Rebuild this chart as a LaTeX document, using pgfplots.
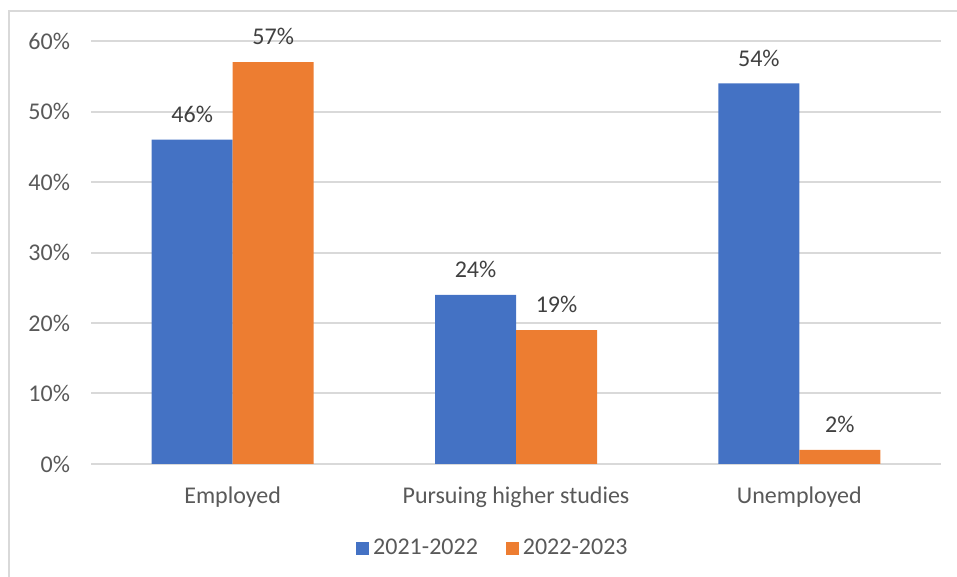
\documentclass[border=0pt]{standalone}
\usepackage{pgfplots}
\pgfplotsset{compat=1.18}
\usepackage{fontspec}
\setmainfont{Carlito}
\definecolor{barblue}{HTML}{4472C4}
\definecolor{barorange}{HTML}{ED7D31}
\definecolor{gridgray}{HTML}{D9D9D9}
\definecolor{labelgray}{HTML}{595959}
\definecolor{datagray}{HTML}{404040}

\begin{document}
\begin{tikzpicture}[font=\fontsize{12pt}{14pt}\selectfont]
\begin{axis}[
    scale only axis,
    width=425pt, height=211.5pt,
    ybar=0pt,
    bar width=40.5pt,
    xmin=-0.5, xmax=2.5,
    ymin=0, ymax=60,
    xtick=data,
    xticklabels={Employed,Pursuing higher studies,Unemployed},
    ytick={0,10,...,60},
    yticklabel={\pgfmathprintnumber{\tick}\%},
    /pgf/number format/assume math mode=true,
    major tick length=0pt,
    axis line style={draw=none},
    ymajorgrids,
    grid style={gridgray, line width=1pt},
    tick label style={labelgray},
    yticklabel style={xshift=-7pt},
    xticklabel style={yshift=-8pt},
    nodes near coords={\pgfmathprintnumber{\pgfplotspointmeta}\%},
    nodes near coords style={datagray, anchor=south, yshift=5pt},
    legend style={at={(rel axis cs:0.474,-0.1986)}, anchor=center, draw=none,
        legend columns=2, font=\fontsize{12pt}{14pt}\selectfont\color{labelgray},
        /tikz/every even column/.append style={column sep=12pt}},
    legend image code/.code={\fill[#1] (0pt,-3.25pt) rectangle (6.5pt,3.25pt);},
    clip=false,
]
\addplot[fill=barblue, draw=none] coordinates {(0,46) (1,24) (2,54)};
\addplot[fill=barorange, draw=none] coordinates {(0,57) (1,19) (2,2)};
\legend{2021-2022,2022-2023}
\end{axis}
\useasboundingbox (-45.5pt,-56.5pt) rectangle (433pt,232pt);
\draw[gridgray, line width=1pt] (-41pt,-57pt) -- (-41pt,226.5pt) -- (434pt,226.5pt);
\end{tikzpicture}
\end{document}
